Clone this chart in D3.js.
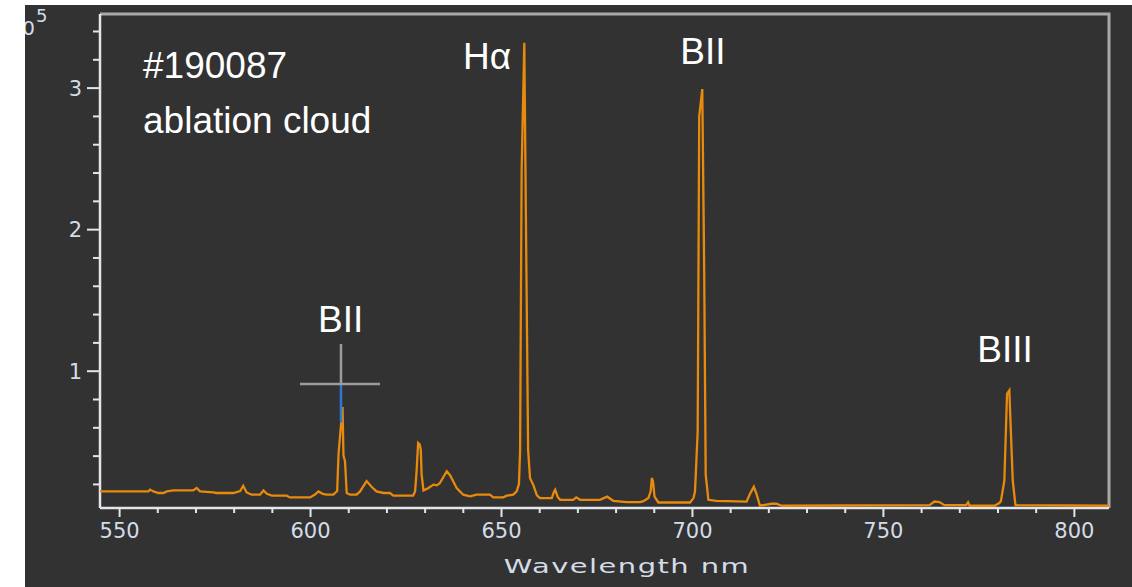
<!DOCTYPE html>
<html>
<head>
<meta charset="utf-8">
<script src="https://cdn.jsdelivr.net/npm/d3@7"></script>
<style>
  html, body { margin: 0; padding: 0; background: #ffffff; }
  svg { display: block; }
</style>
</head>
<body>
<svg id="chart" width="1132" height="587"></svg>
<script>
// Emission spectrum of the ablation cloud, intensity in units of 10^5 counts
const wavelength = [
  545.0, 557.7, 558.1, 559.0, 560.3, 561.6, 562.5, 564.2, 569.4, 570.3,
  571.2, 574.7, 575.5, 579.9, 581.7, 582.5, 583.4, 584.7, 586.9, 587.8,
  588.7, 590.0, 593.9, 594.7, 600.0, 601.3, 602.2, 603.3, 604.4, 606.1,
  607.1, 607.45, 608.15, 608.5, 608.75, 609.15, 609.6, 610.5, 612.2, 613.1,
  614.8, 616.1, 617.4, 619.2, 620.9, 621.8, 627.0, 627.5, 627.9, 628.3,
  628.7, 629.0, 629.2, 629.7, 631.0, 632.3, 633.2, 634.0, 635.8, 636.7,
  638.4, 640.1, 641.9, 643.6, 647.1, 648.0, 650.6, 651.5, 653.2, 654.1,
  654.7, 655.0, 655.4, 656.1, 656.5, 657.1, 657.6, 658.5, 659.4, 660.2,
  663.3, 663.9, 664.2, 664.8, 665.5, 668.9, 669.7, 670.7, 675.9, 677.8,
  679.4, 682.9, 686.4, 687.3, 688.6, 689.2, 689.5, 689.8, 690.2, 691.2,
  699.5, 700.4, 700.8, 701.5, 701.9, 702.7, 703.2, 703.6, 704.3, 706.4,
  714.3, 715.2, 716.2, 716.9, 717.8, 720.8, 722.1, 723.5, 762.2, 763.5,
  764.8, 766.1, 771.8, 772.3, 772.7, 779.2, 780.5, 780.9, 781.8, 782.5,
  783.1, 783.4, 784.0, 784.7, 809.2
];
const intensity = [
  0.147, 0.147, 0.160, 0.147, 0.136, 0.136, 0.147, 0.154, 0.154, 0.171,
  0.147, 0.140, 0.136, 0.136, 0.150, 0.187, 0.140, 0.124, 0.124, 0.154,
  0.130, 0.117, 0.117, 0.105, 0.105, 0.125, 0.147, 0.130, 0.124, 0.124,
  0.150, 0.406, 0.633, 0.743, 0.400, 0.360, 0.136, 0.124, 0.124, 0.147,
  0.220, 0.180, 0.147, 0.136, 0.136, 0.117, 0.117, 0.147, 0.290, 0.490,
  0.480, 0.440, 0.270, 0.154, 0.171, 0.195, 0.190, 0.206, 0.290, 0.260,
  0.170, 0.124, 0.112, 0.124, 0.124, 0.105, 0.105, 0.117, 0.124, 0.147,
  0.200, 0.440, 2.410, 3.316, 2.140, 0.440, 0.240, 0.190, 0.120, 0.100,
  0.100, 0.147, 0.160, 0.110, 0.088, 0.088, 0.105, 0.088, 0.088, 0.110,
  0.081, 0.072, 0.072, 0.078, 0.100, 0.150, 0.242, 0.218, 0.110, 0.069,
  0.069, 0.100, 0.147, 0.571, 2.797, 2.990, 1.714, 0.265, 0.088, 0.080,
  0.075, 0.130, 0.180, 0.130, 0.046, 0.060, 0.060, 0.046, 0.050, 0.076,
  0.072, 0.050, 0.050, 0.070, 0.046, 0.046, 0.065, 0.080, 0.223, 0.837,
  0.861, 0.645, 0.223, 0.050, 0.046
];

// Cursor readout placed on the 608 nm line
const cursorWavelength = 608.1;
const cursorIntensity = 0.906;
const cursorTraceFrom = 0.633;

// Axis ticks
const xTicks = d3.range(550, 801, 10);
const xLabels = [550, 600, 650, 700, 750, 800];
const yTicks = d3.range(1, 18).map(i => +(i * 0.2).toFixed(1));
const yLabels = [1, 2, 3];

// Line identifications
const annotations = [
  { text: "Hα",   at: 656.3, value: 3.13, dx: -62 },
  { text: "BII",  at: 702.7, value: 3.17, dx: -22 },
  { text: "BII",  at: 608.1, value: 1.27, dx: -23 },
  { text: "BIII", at: 783.1, value: 1.06, dx: -32 }
];
const caption = ["#190087", "ablation cloud"];

const svg = d3.select("#chart");
const W = 1132, H = 587;
const plot = { left: 100, right: 1109, top: 14, bottom: 508 };

const x = d3.scaleLinear().domain([545, 809.2]).range([plot.left, plot.right]);
const y = d3.scaleLinear().domain([0.03, 3.52]).range([plot.bottom, plot.top]);

svg.append("rect").attr("width", W).attr("height", H).attr("fill", "#ffffff");

svg.append("defs").append("clipPath").attr("id", "panel")
  .append("rect").attr("x", 25).attr("y", 5).attr("width", W - 25).attr("height", H - 5);
svg.append("defs").append("clipPath").attr("id", "plotArea")
  .append("rect").attr("x", plot.left).attr("y", plot.top)
  .attr("width", plot.right - plot.left).attr("height", plot.bottom - plot.top);

const panel = svg.append("g").attr("clip-path", "url(#panel)");
panel.append("rect").attr("x", 25).attr("y", 5).attr("width", W - 25).attr("height", H - 5)
  .attr("fill", "#323232");

const tickColor = "#e2e6ea";
const labelColor = "#d3dde8";
const labelFont = "'DejaVu Sans', Verdana, sans-serif";

// Frame: top and right edges
panel.append("path")
  .attr("d", `M${plot.left},${plot.top}H${plot.right}V${plot.bottom}`)
  .attr("fill", "none").attr("stroke", "#a9a9a9").attr("stroke-width", 3);

// Y axis
const yAxis = d3.axisLeft(y).tickValues(yTicks).tickSize(7)
  .tickFormat(d => yLabels.includes(d) ? d3.format("d")(d) : "");
const gy = panel.append("g").attr("transform", `translate(${plot.left},0)`).call(yAxis);
gy.select(".domain").attr("stroke", tickColor).attr("stroke-width", 2.5)
  .attr("d", `M0,${plot.top}V${plot.bottom}`);
gy.selectAll(".tick line").attr("stroke", tickColor).attr("stroke-width", 2)
  .attr("x2", d => yLabels.includes(d) ? -13 : -7);
gy.selectAll(".tick text").attr("fill", labelColor).attr("x", -18).attr("dy", "0.36em")
  .style("font-family", labelFont).style("font-size", "21px");

// X axis
const xAxis = d3.axisBottom(x).tickValues(xTicks).tickSize(5)
  .tickFormat(d => xLabels.includes(d) ? d : "");
const gx = panel.append("g").attr("transform", `translate(0,${plot.bottom})`).call(xAxis);
gx.select(".domain").attr("stroke", tickColor).attr("stroke-width", 2.5)
  .attr("d", `M${plot.left},0H${plot.right}`);
gx.selectAll(".tick line").attr("stroke", tickColor).attr("stroke-width", 2)
  .attr("y2", d => xLabels.includes(d) ? 9 : 5);
gx.selectAll(".tick text").attr("fill", labelColor).attr("y", 30).attr("dy", 0)
  .style("font-family", labelFont).style("font-size", "21px");

// Axis title, drawn wide
const titleX = 627, titleY = 573;
panel.append("text")
  .attr("transform", `translate(${titleX},${titleY}) scale(1.45,1)`)
  .attr("text-anchor", "middle")
  .attr("fill", labelColor)
  .style("font-family", labelFont).style("font-size", "20px").style("letter-spacing", "1px")
  .text("Wavelength nm");

// Scale exponent, partly cut by the panel edge
panel.append("text").attr("x", 35).attr("y", 35).attr("text-anchor", "end")
  .attr("fill", labelColor).style("font-family", labelFont).style("font-size", "20px")
  .text("×10");
panel.append("text").attr("x", 36).attr("y", 22)
  .attr("fill", labelColor).style("font-family", labelFont).style("font-size", "18px")
  .text("5");

// Spectrum
const spectrum = wavelength.map((w, i) => ({ w, v: intensity[i] }));
const line = d3.line().x(d => x(d.w)).y(d => y(d.v));
panel.append("g").attr("clip-path", "url(#plotArea)")
  .append("path").datum(spectrum)
  .attr("d", line)
  .attr("fill", "none")
  .attr("stroke", "#e88a0c")
  .attr("stroke-width", 2.3)
  .attr("stroke-linejoin", "miter");

// Cursor: highlighted trace segment and crosshair
const cx = x(cursorWavelength), cy = y(cursorIntensity);
panel.append("line")
  .attr("x1", cx).attr("x2", cx).attr("y1", cy).attr("y2", y(cursorTraceFrom))
  .attr("stroke", "#2f78d0").attr("stroke-width", 2.5);
panel.append("line")
  .attr("x1", cx - 41).attr("x2", cx + 39).attr("y1", cy).attr("y2", cy)
  .attr("stroke", "#9c9c9c").attr("stroke-width", 2.5);
panel.append("line")
  .attr("x1", cx).attr("x2", cx).attr("y1", cy - 40).attr("y2", cy)
  .attr("stroke", "#9c9c9c").attr("stroke-width", 2.5);

// Labels
const annFont = "'Liberation Sans', Arial, sans-serif";
panel.selectAll("text.ann").data(annotations).join("text")
  .attr("class", "ann")
  .attr("x", d => x(d.at) + d.dx)
  .attr("y", d => y(d.value))
  .attr("fill", "#ffffff")
  .style("font-family", annFont).style("font-size", "37px")
  .text(d => d.text);

panel.selectAll("text.caption").data(caption).join("text")
  .attr("class", "caption")
  .attr("x", 143)
  .attr("y", (d, i) => 78 + i * 55)
  .attr("fill", "#ffffff")
  .style("font-family", annFont).style("font-size", "37px")
  .text(d => d);
</script>
</body>
</html>
